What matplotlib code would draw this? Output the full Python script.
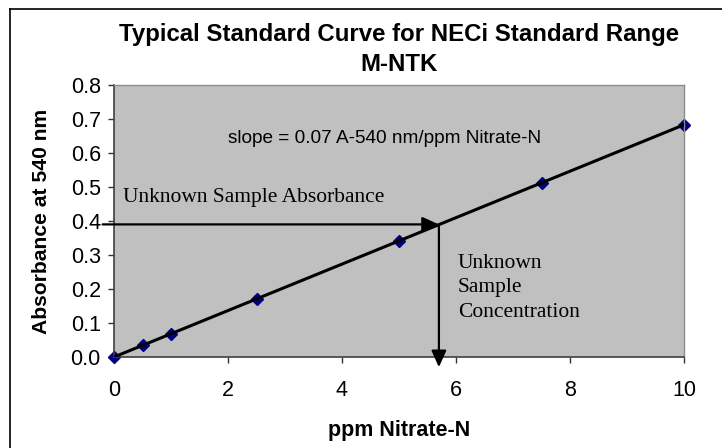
import matplotlib
matplotlib.use("Agg")
import matplotlib.pyplot as plt
from matplotlib.lines import Line2D

# standard concentrations (ppm Nitrate-N) and measured absorbance at 540 nm
conc = [0, 0.5, 1, 2.5, 5, 7.5, 10]
absorb = [0.0, 0.035, 0.068, 0.171, 0.342, 0.513, 0.682]
fit_x = [0, 10]
fit_y = [0.0, 0.683]

# unknown sample
unk_conc = 5.7
unk_abs = 0.39

x_ticks = [0, 2, 4, 6, 8, 10]
y_ticks = [0.0, 0.1, 0.2, 0.3, 0.4, 0.5, 0.6, 0.7, 0.8]

sans = ["Liberation Sans", "DejaVu Sans"]
serif = ["Liberation Serif", "DejaVu Serif"]

fig = plt.figure(figsize=(7.22, 4.48), dpi=100)
ax = fig.add_axes([114 / 722, 1 - 357 / 448, 570 / 722, 272 / 448])
ax.set_facecolor("#C0C0C0")

ax.plot(fit_x, fit_y, color="black", lw=2.2, zorder=3)
ax.plot(conc, absorb, ls="none", marker="D", ms=6.5, color="#000080",
        zorder=2, clip_on=False)

ax.set_xlim(0, 10)
ax.set_ylim(0, 0.8)
ax.set_xticks(x_ticks)
ax.set_yticks(y_ticks)
ax.set_yticklabels([f"{v:.1f}" for v in y_ticks])
ax.tick_params(direction="out", length=4.5, width=1, colors="#333333",
               labelcolor="black", labelsize=15.5)
ax.tick_params(axis="y", pad=5)
ax.tick_params(axis="x", pad=12)
for lab in ax.get_xticklabels() + ax.get_yticklabels():
    lab.set_family(sans)

for side in ["left", "bottom"]:
    ax.spines[side].set_color("#404040")
    ax.spines[side].set_linewidth(1.2)
for side in ["top", "right"]:
    ax.spines[side].set_color("#8c8c8c")
    ax.spines[side].set_linewidth(1.0)

ax.set_xlabel("ppm Nitrate-N", family=sans, fontsize=15.5, fontweight="bold",
              labelpad=14)
ax.set_ylabel("Absorbance at 540 nm", family=sans, fontsize=15.2,
              fontweight="bold")
ax.yaxis.set_label_coords(-0.11, 0.5)
ax.set_title("Typical Standard Curve for NECi Standard Range\nM-NTK",
             family=sans, fontsize=17.3, fontweight="bold", pad=10,
             linespacing=1.4)

# arrows from the absorbance reading to the curve and down to the x axis
ax.annotate("", xy=(unk_conc, unk_abs), xytext=(-0.2, unk_abs),
            xycoords="data", textcoords="data", annotation_clip=False,
            arrowprops=dict(arrowstyle="-|>,head_length=1.0,head_width=0.45",
                            color="black", lw=1.6, shrinkA=0, shrinkB=0))
ax.annotate("", xy=(unk_conc, -0.03), xytext=(unk_conc, unk_abs),
            xycoords="data", textcoords="data", annotation_clip=False,
            arrowprops=dict(arrowstyle="-|>,head_length=1.0,head_width=0.45",
                            color="black", lw=1.6, shrinkA=0, shrinkB=0),
            zorder=4)

ax.text(2.0, 0.644, "slope = 0.07 A-540 nm/ppm Nitrate-N", family=sans,
        fontsize=13.7, va="center", ha="left")
ax.text(0.15, 0.47, "Unknown Sample Absorbance", family=serif,
        fontsize=15.5, va="center", ha="left")
ax.text(6.03, 0.203, "Unknown\nSample\nConcentration", family=serif,
        fontsize=15.5, va="center", ha="left", linespacing=1.38)

# outer chart frame
fig.add_artist(Line2D([10 / 722, 1], [1 - 9 / 448, 1 - 9 / 448],
                      color="black", lw=1.2))
fig.add_artist(Line2D([10 / 722, 10 / 722], [0, 1 - 9 / 448],
                      color="black", lw=1.2))

fig.savefig("out.png", dpi=100, facecolor="white")
